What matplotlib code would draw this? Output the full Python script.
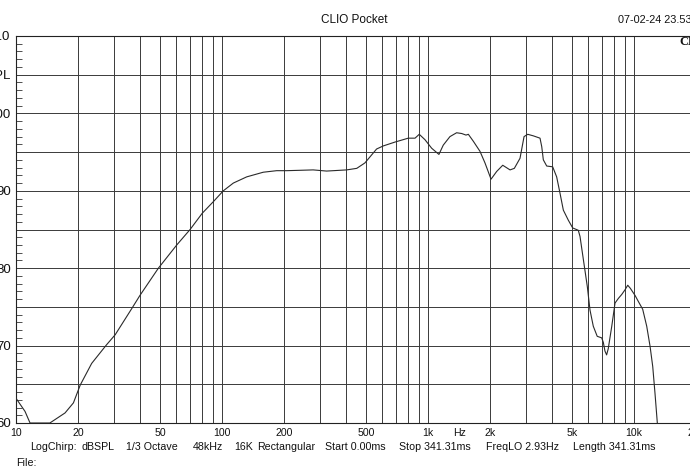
import matplotlib
matplotlib.use("Agg")
import matplotlib.pyplot as plt
from matplotlib.ticker import FixedLocator, FixedFormatter, NullFormatter, LogLocator, MultipleLocator

# ---- data ----
freq = [10, 11.06, 11.7, 14.6, 17.3, 19.0, 20.5, 23.3, 27.5, 30.3, 36.5, 40.0, 49.1, 60.3, 70.0,
        80.2, 90.8, 101.5, 113.5, 131.8, 158.6, 184.3, 206, 240, 277, 322, 403, 451, 494, 563,
        607, 692, 802, 865, 907, 967, 1042, 1130, 1186, 1278, 1377, 1458, 1529, 1570, 1660,
        1788, 1891, 2023, 2155, 2306, 2502, 2625, 2797, 2926, 3049, 3246, 3498, 3566, 3630,
        3770, 4030, 4213, 4373, 4540, 4800, 5040, 5365, 5470, 5680, 5937, 6115, 6345, 6630,
        6970, 7100, 7228, 7364, 7500, 7800, 8090, 8400, 8715, 9040, 9325, 9600, 10110, 10500,
        11020, 11530, 11970, 12330, 12650, 12980]
spl = [63.2, 61.5, 60.0, 60.0, 61.3, 62.6, 64.9, 67.7, 70.1, 71.4, 74.8, 76.5, 80.0, 83.0, 85.0,
       87.1, 88.6, 90.0, 91.0, 91.8, 92.4, 92.6, 92.6, 92.65, 92.7, 92.55, 92.7, 92.9, 93.6, 95.4,
       95.8, 96.3, 96.8, 96.8, 97.3, 96.6, 95.5, 94.7, 95.9, 97.0, 97.5, 97.4, 97.2, 97.3, 96.4,
       95.1, 93.6, 91.5, 92.5, 93.3, 92.7, 92.9, 94.2, 97.0, 97.3, 97.1, 96.8, 95.7, 94.0,
       93.2, 93.1, 91.8, 89.7, 87.5, 86.2, 85.2, 84.9, 84.1, 81.1, 77.6, 74.6, 72.5, 71.2,
       71.0, 70.4, 69.3, 68.8, 69.6, 72.5, 75.5, 76.1, 76.6, 77.2, 77.8, 77.4, 76.5, 75.7,
       74.7, 72.5, 69.9, 67.3, 63.8, 60.0]

xtick_vals = [10, 20, 50, 100, 200, 500, 1000, 2000, 5000, 10000, 20000]
xtick_labels = ["10", "20", "50", "100", "200", "500", "1k", "2k", "5k", "10k", "20k"]
ytick_vals = [60, 65, 70, 75, 80, 85, 90, 95, 100, 105, 110]
ytick_labels = ["60", "", "70", "", "80", "", "90", "", "100", "dBSPL", "110"]

title = "CLIO Pocket"
date_str = "07-02-24 23.53"
info_items = ["LogChirp:", "dBSPL", "1/3 Octave", "48kHz", "16K", "Rectangular",
              "Start 0.00ms", "Stop 341.31ms", "FreqLO 2.93Hz", "Length 341.31ms"]
info_x_px = [30, 81, 126, 193, 234, 257, 325, 399, 486, 573]

plt.rcParams['font.family'] = ['Liberation Sans', 'DejaVu Sans']

W, H = 690, 468
fig = plt.figure(figsize=(W / 100, H / 100), dpi=100)
fig.patch.set_facecolor('white')
ax = fig.add_axes([16 / W, (H - 423) / H, (696 - 16) / W, (423 - 36) / H])

grid_col = '#3a3a3a'
ax.plot(freq, spl, color='#2a2a2a', lw=0.8, zorder=3)
ax.set_xscale('log')
ax.set_xlim(10, 20000)
ax.set_ylim(60, 110)

ax.xaxis.set_major_locator(FixedLocator(xtick_vals))
ax.xaxis.set_major_formatter(FixedFormatter(xtick_labels))
ax.xaxis.set_minor_locator(LogLocator(base=10, subs=range(2, 10), numticks=20))
ax.xaxis.set_minor_formatter(NullFormatter())
ax.yaxis.set_major_locator(FixedLocator(ytick_vals))
ax.yaxis.set_major_formatter(FixedFormatter(ytick_labels))
ax.yaxis.set_minor_locator(MultipleLocator(1))

ax.tick_params(axis='x', which='both', length=0, pad=3.5, labelsize=7.6, colors='#111111')
ax.tick_params(axis='y', which='major', length=0, pad=3.8, labelsize=9.5, colors='#111111')
ax.tick_params(axis='y', which='minor', direction='in', length=4, width=0.6, color='#333333')

ax.grid(axis='x', which='both', color=grid_col, lw=0.7)
ax.grid(axis='y', which='major', color=grid_col, lw=0.7)
for sp in ax.spines.values():
    sp.set_color('#222222')
    sp.set_linewidth(0.8)

fig.text(354 / W, 1 - 20 / H, title, ha='center', va='center', fontsize=8.5, color='#111111')
fig.text(618 / W, 1 - 20 / H, date_str, ha='left', va='center', fontsize=7.8, color='#111111')
fig.text(679 / W, 1 - 42 / H, "CLIO", ha='left', va='center', fontsize=9,
         family=['Liberation Serif', 'DejaVu Serif'], weight='bold', color='#111111')
fig.text(460 / W, 1 - 433 / H, "Hz", ha='center', va='center', fontsize=7.6, color='#111111')
for item, xp in zip(info_items, info_x_px):
    fig.text(xp / W, 1 - 447 / H, item, ha='left', va='center', fontsize=7.7, color='#111111')
fig.text(16 / W, 1 - 463 / H, "File:", ha='left', va='center', fontsize=7.7, color='#111111')

fig.savefig("out.png", dpi=100, facecolor='white')
